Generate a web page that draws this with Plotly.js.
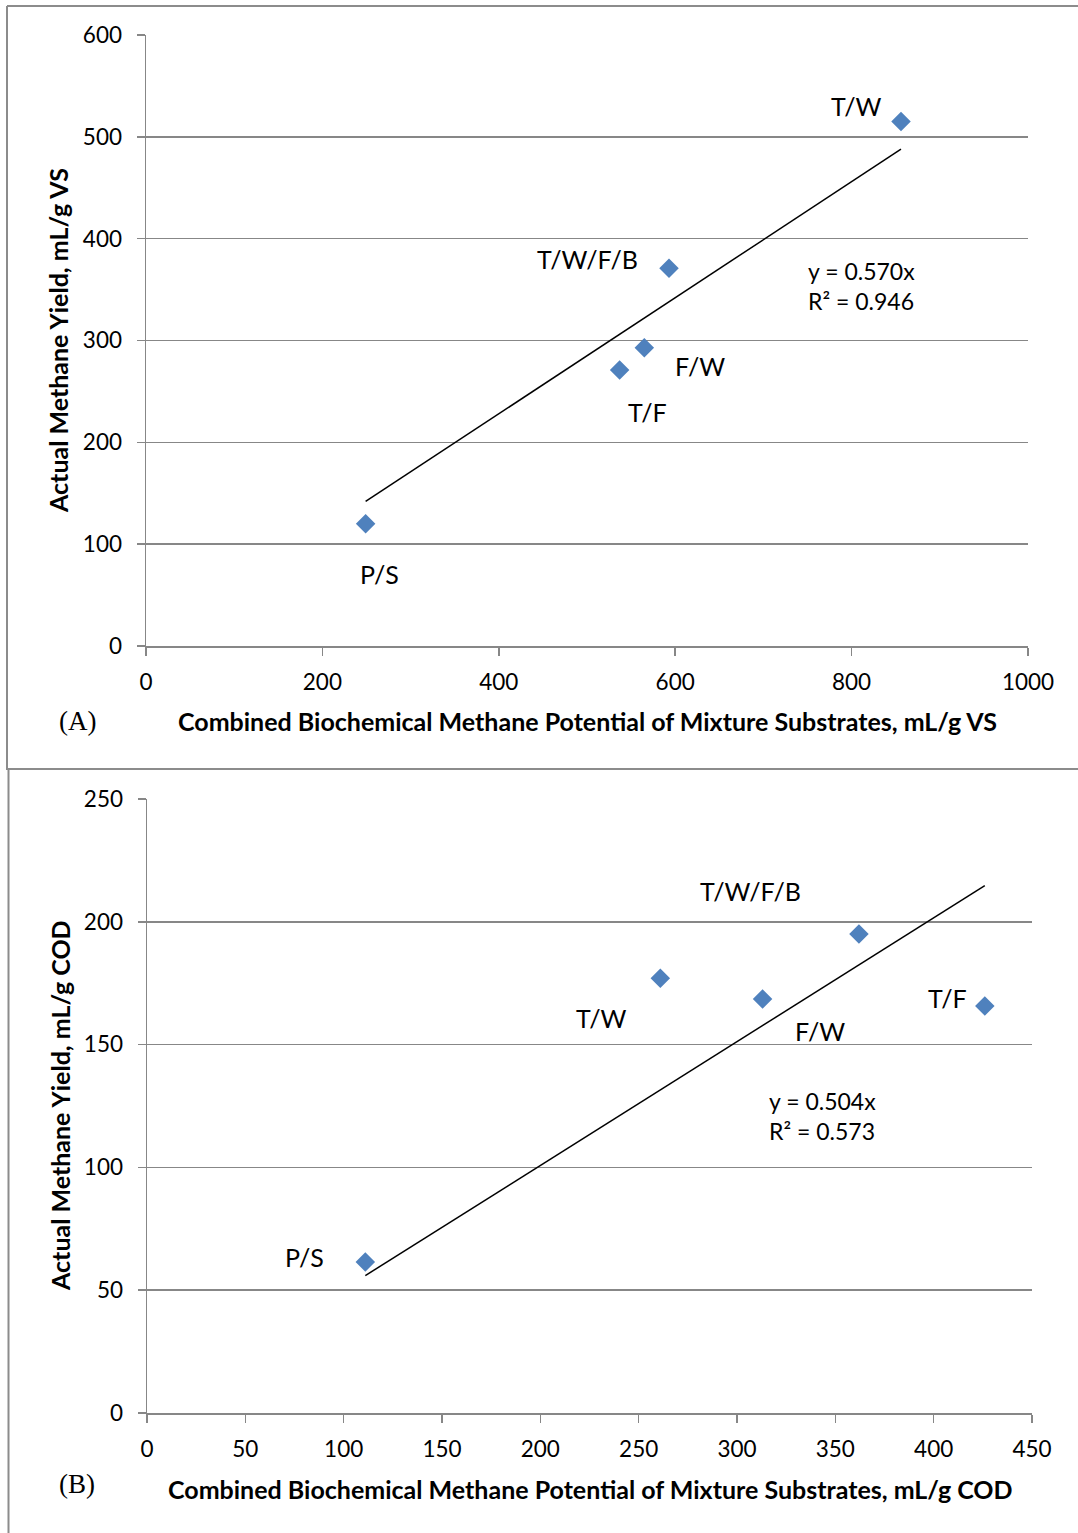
<!DOCTYPE html>
<html><head><meta charset="utf-8">
<script src="https://cdn.plot.ly/plotly-3.0.1.min.js"></script>
<style>body{margin:0;padding:0;background:#fff}#chart{width:1078px;height:1533px}</style>
</head><body><div id="chart"></div>
<script>
// Panel A data (mL/g VS)
const labelsA = ["P/S", "T/F", "F/W", "T/W/F/B", "T/W"];
const xA = [249, 537, 565, 593, 856];
const yA = [120, 271, 293, 371, 515];
const slopeA = 0.570;
const eqA = "y = 0.570x<br>R² = 0.946";
// label positions (data coords) for panel A
const labelXA = [265, 569, 628, 500, 806];
const labelYA = [71, 230, 275, 380, 530];

// Panel B data (mL/g COD)
const labelsB = ["P/S", "T/W", "F/W", "T/W/F/B", "T/F"];
const xB = [111, 261, 313, 362, 426];
const yB = [61.5, 177, 168.6, 195, 165.7];
const slopeB = 0.504;
const eqB = "y = 0.504x<br>R² = 0.573";
const labelXB = [80, 231, 342, 307, 407];
const labelYB = [63.5, 161, 155.5, 212.5, 169];

const W = 1078, H = 1533;
const px = x => x / W, py = y => 1 - y / H;
const FONT = "Lato, 'Open Sans', sans-serif";
const grey = "#878787";
const blue = "#4F81BD";

function trend(xs, slope) {
  const lo = Math.min(...xs), hi = Math.max(...xs);
  return {x: [lo, hi], y: [slope * lo, slope * hi]};
}
const tA = trend(xA, slopeA), tB = trend(xB, slopeB);

const data = [
  {x: xA, y: yA, type: "scatter", mode: "markers", xaxis: "x", yaxis: "y",
   marker: {symbol: "diamond", size: 15, color: blue}, hoverinfo: "skip"},
  {x: tA.x, y: tA.y, type: "scatter", mode: "lines", xaxis: "x", yaxis: "y",
   line: {color: "#000", width: 1.5}, hoverinfo: "skip"},
  {x: xB, y: yB, type: "scatter", mode: "markers", xaxis: "x2", yaxis: "y2",
   marker: {symbol: "diamond", size: 15, color: blue}, hoverinfo: "skip"},
  {x: tB.x, y: tB.y, type: "scatter", mode: "lines", xaxis: "x2", yaxis: "y2",
   line: {color: "#000", width: 1.5}, hoverinfo: "skip"}
];

const TICKSIZE = 22.5;
function axX(domain, range, dtick, anchor) {
  return {domain: domain, range: range, dtick: dtick, tick0: 0, anchor: anchor,
    showgrid: false, zeroline: false, showline: true, linecolor: grey, linewidth: 1.5,
    ticks: "outside", ticklen: 8, tickcolor: grey, tickwidth: 1.5, ticklabelstandoff: 7,
    tickfont: {family: FONT, size: TICKSIZE, color: "#000"}, fixedrange: true};
}
function axY(domain, range, dtick, anchor) {
  return {domain: domain, range: range, dtick: dtick, tick0: 0, anchor: anchor,
    showgrid: true, gridcolor: grey, gridwidth: 1.5, zeroline: false,
    showline: true, linecolor: grey, linewidth: 1.5,
    ticks: "outside", ticklen: 8, tickcolor: grey, tickwidth: 1.5, ticklabelstandoff: 10,
    tickfont: {family: FONT, size: TICKSIZE, color: "#000"}, fixedrange: true};
}

const LBL = {family: FONT, size: 25, color: "#000"};
const annotations = [];
labelsA.forEach((t, i) => annotations.push({x: labelXA[i], y: labelYA[i], xref: "x", yref: "y",
  text: t, showarrow: false, font: LBL}));
labelsB.forEach((t, i) => annotations.push({x: labelXB[i], y: labelYB[i], xref: "x2", yref: "y2",
  text: t, showarrow: false, font: LBL}));
annotations.push({x: 748, y: 354, xref: "x", yref: "y", text: eqA, showarrow: false,
  xanchor: "left", yanchor: "middle", align: "left", font: {family: FONT, size: 23, color: "#000"}});
annotations.push({x: 315, y: 121, xref: "x2", yref: "y2", text: eqB, showarrow: false,
  xanchor: "left", yanchor: "middle", align: "left", font: {family: FONT, size: 23, color: "#000"}});
// axis titles
const titleFont = {family: FONT, size: 25, color: "#000", weight: "bold"};
function pAnn(x, y, text, font, angle) {
  annotations.push({x: px(x), y: py(y), xref: "paper", yref: "paper", showarrow: false,
    xanchor: "center", yanchor: "middle", textangle: angle || 0, text: text, font: font});
}
pAnn(587, 721, "<b>Combined Biochemical Methane Potential of Mixture Substrates, mL/g VS</b>", titleFont);
pAnn(590, 1489, "<b>Combined Biochemical Methane Potential of Mixture Substrates, mL/g COD</b>", titleFont);
pAnn(58, 341, "<b>Actual Methane Yield, mL/g VS</b>", titleFont, -90);
pAnn(60, 1106, "<b>Actual Methane Yield, mL/g COD</b>", titleFont, -90);
pAnn(77, 721, "(A)", {family: "'Liberation Serif', serif", size: 27, color: "#000"});
pAnn(77, 1484, "(B)", {family: "'Liberation Serif', serif", size: 27, color: "#000"});

const bc = "#8c8c8c";
const shapes = [
  {type: "line", xref: "paper", yref: "paper", x0: px(7), x1: px(7), y0: py(6), y1: py(770), line: {color: bc, width: 2}},
  {type: "line", xref: "paper", yref: "paper", x0: px(7), x1: 1, y0: py(6), y1: py(6), line: {color: bc, width: 2}},
  {type: "line", xref: "paper", yref: "paper", x0: px(7), x1: 1, y0: py(769), y1: py(769), line: {color: bc, width: 2}},
  {type: "line", xref: "paper", yref: "paper", x0: px(8.5), x1: px(8.5), y0: py(769), y1: 0, line: {color: bc, width: 2}}
];

const layout = {
  width: W, height: H, margin: {l: 0, r: 0, t: 0, b: 0},
  paper_bgcolor: "#fff", plot_bgcolor: "#fff", showlegend: false,
  xaxis: axX([px(146), px(1028)], [0, 1000], 200, "y"),
  yaxis: axY([py(646), py(35)], [0, 600], 100, "x"),
  xaxis2: axX([px(147), px(1032)], [0, 450], 50, "y2"),
  yaxis2: axY([py(1413), py(799)], [0, 250], 50, "x2"),
  annotations: annotations, shapes: shapes
};
Plotly.newPlot("chart", data, layout, {displayModeBar: false, staticPlot: true});
</script></body></html>
